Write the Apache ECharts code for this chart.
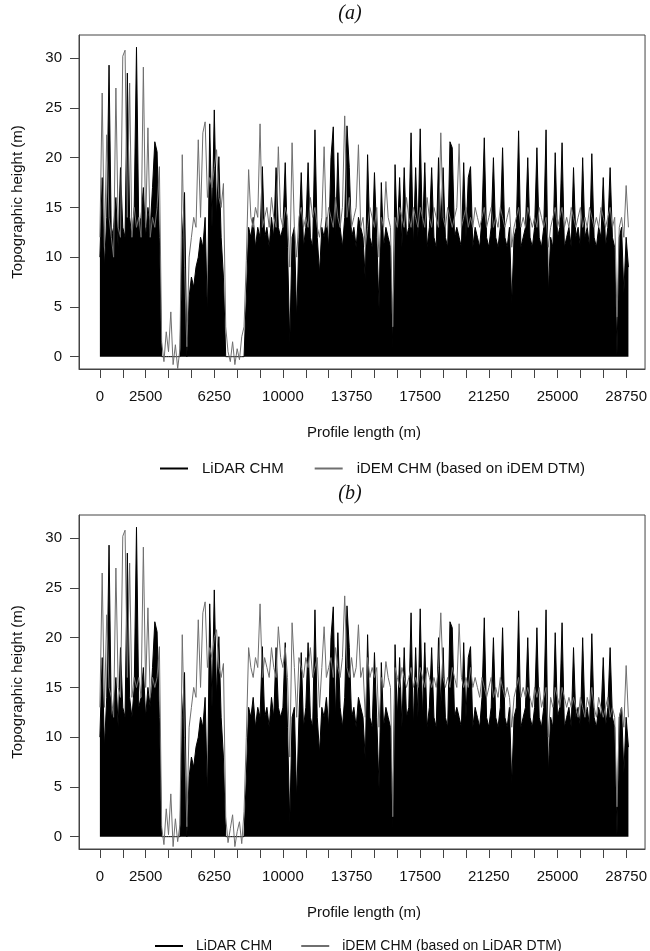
<!DOCTYPE html>
<html>
<head>
<meta charset="utf-8">
<script src="https://cdn.jsdelivr.net/npm/echarts@6/dist/echarts.min.js"></script>
<style>
  html, body { margin: 0; padding: 0; background: #fff; }
  #chart { width: 650px; height: 951px; }
</style>
</head>
<body>
<div id="chart"></div>
<script>
// profile samples every 125 m, from 0 m
const STEP = 125

// LiDAR CHM (same in both panels)
const lidarChm = [
  10, 18, 9, 14, 29.3, 12, 13, 16, 11, 19,
  13, 12, 28.5, 14, 12, 15, 31.1, 13, 14, 17,
  12, 15, 13, 17, 21.6, 20.6, 12, 0, 0, 0,
  0, 0, 0, 0, 0, 0, 12, 16.5, 0, 6,
  8, 7, 9, 10, 12, 11, 14, 4, 23.4, 13,
  24.8, 14, 20.1, 12, 8, 0, 0, 0, 0, 0,
  0, 0, 0, 0, 6, 13, 12, 14, 11, 13,
  12, 19.1, 12, 13, 11, 14, 12, 19, 13, 12,
  13, 19.5, 11, 1.4, 12, 13, 3.7, 12, 18.5, 11,
  13, 19.5, 12, 11, 22.8, 12, 8.4, 13, 12, 14,
  11, 20, 23.1, 12, 20.5, 13, 11, 14, 23.2, 19,
  12, 13, 11, 14, 13, 12, 7.7, 20.3, 12, 11,
  18.5, 12, 4.9, 17.5, 11, 13, 12, 11, 0.9, 19.3,
  12, 18, 11, 19, 12, 13, 22.5, 11, 19, 12,
  22.9, 12, 19.5, 11, 13, 19, 12, 11, 20, 13,
  19, 12, 11, 21.6, 21, 12, 13, 12, 11, 19.5,
  12, 18, 19.1, 11, 13, 12, 11, 14, 22, 12,
  11, 13, 20, 12, 11, 13, 21, 12, 11, 13,
  5.4, 12, 13, 22.7, 11, 12, 13, 20, 12, 11,
  13, 21, 12, 11, 13, 22.8, 6.4, 12, 11, 20.5,
  12, 13, 21.5, 11, 12, 13, 11, 19, 12, 13,
  11, 20, 12, 13, 11, 20.4, 12, 11, 13, 12,
  18, 11, 13, 19, 12, 11, 0.2, 12, 13, 6.4,
  12, 9
]

// iDEM CHM based on iDEM DTM (panel a)
const idemChmIdemDtm = [
  12, 26.5, 11, 22.3, 14, 12, 10, 27, 13, 12,
  30.2, 30.8, 14, 27.5, 12, 15, 13, 14, 12, 29.1,
  13, 23, 12, 14, 13, 15, 19.1, 1.5, -0.5, 2.5,
  0.5, 4.5, -0.8, 1.2, -1.2, 0.8, 20.3, 9, 1, 10,
  12, 14, 13, 21.8, 14, 22.5, 23.6, 16, 18, 17,
  19, 20.8, 16, 15, 17.4, 3, 0.5, -0.5, 1.5, -0.8,
  0.8, -0.3, 2, 3, 9.7, 18.8, 14, 13, 15, 14,
  23.4, 13, 14, 15, 13, 16, 14, 13, 21.1, 14,
  13, 15, 14, 9, 21.5, 13, 10, 14, 15, 13,
  14, 13, 16, 14, 15, 13, 12, 14, 21.1, 13,
  15, 14, 13, 16, 14, 13, 15, 24.2, 14, 16,
  13, 14, 15, 21.3, 13, 14, 11, 13, 15, 14,
  13, 15, 10, 14, 13, 17.6, 14, 13, 3, 14,
  13, 15, 14, 13, 16, 14, 13, 15, 14, 13,
  15, 14, 13, 16, 14, 13, 15, 14, 13, 22.5,
  14, 13, 15, 14, 13, 14, 15, 21.4, 13, 14,
  15, 13, 14, 13, 15, 14, 13, 14, 15, 13,
  14, 15, 13, 14, 13, 15, 14, 13, 14, 15,
  11, 13, 14, 15, 13, 14, 13, 15, 14, 13,
  14, 13, 15, 14, 13, 14, 11, 13, 14, 15,
  13, 14, 15, 13, 14, 13, 15, 14, 13, 14,
  15, 13, 14, 13, 15, 14, 13, 14, 13, 15,
  14, 13, 14, 15, 13, 14, 4, 13, 14, 12,
  17.2, 13
]

// iDEM CHM based on LiDAR DTM (panel b)
const idemChmLidarDtm = [
  13, 26.5, 13, 22.3, 15, 14, 12, 27, 15, 14,
  30.2, 30.8, 16, 27.5, 14, 16, 15, 16, 14, 29.1,
  15, 23, 14, 16, 15, 16, 19.1, 1, -0.8, 2.8,
  0.2, 4.3, -1, 1.8, -0.5, 1.2, 20.3, 10, 1, 11,
  13, 15, 14, 21.8, 15, 22.5, 23.6, 17, 19, 18,
  20, 20.8, 17, 16, 17.4, 2, -0.6, 0.8, 2.2, -1,
  0.5, 1.5, -0.7, 2.5, 10, 19, 17, 16, 18, 17,
  23.4, 16, 18, 17, 16, 19, 17, 16, 21.1, 18,
  17, 19, 16, 8, 21.5, 17, 12, 18, 17, 16,
  18, 17, 19, 16, 17, 18, 13, 17, 21.1, 16,
  17, 18, 16, 19, 17, 16, 18, 24.2, 17, 16,
  18, 16, 17, 21.3, 16, 17, 12, 18, 16, 17,
  16, 17, 11, 16, 15, 17.6, 16, 15, 2, 17,
  16, 15, 17, 16, 15, 16, 17, 15, 16, 15,
  17, 16, 15, 17, 16, 15, 16, 15, 17, 22.5,
  16, 15, 16, 15, 17, 16, 15, 21.4, 16, 15,
  16, 15, 17, 15, 16, 15, 14, 16, 15, 14,
  15, 16, 14, 15, 14, 16, 15, 14, 15, 14,
  11, 14, 15, 16, 14, 15, 14, 15, 14, 13,
  15, 14, 15, 13, 14, 15, 10, 14, 13, 15,
  14, 13, 15, 14, 13, 14, 13, 14, 13, 12,
  14, 13, 12, 14, 13, 15, 13, 12, 14, 13,
  12, 13, 14, 12, 13, 12, 3, 12, 13, 11,
  17.2, 12
]

const xTicks = [0, 1250, 2500, 3750, 5000, 6250, 7500, 8750, 10000, 11250, 12500, 13750,
  15000, 16250, 17500, 18750, 20000, 21250, 22500, 23750, 25000, 26250, 27500, 28750]
const xLabels = [0, 2500, 6250, 10000, 13750, 17500, 21250, 25000, 28750]
const yTicks = [0, 5, 10, 15, 20, 25, 30]

const FONT = 'Liberation Sans, Arial, sans-serif'
const AXIS_COLOR = '#444'
const GRAY = '#6f6f6f'

const toPairs = vals => vals.map((v, i) => [i * STEP, v])

const chart = echarts.init(document.getElementById('chart'), null, { renderer: 'canvas' })

const makeGrid = top => ({
  left: 79, top, width: 569, height: 334,
  show: true, borderColor: AXIS_COLOR, borderWidth: 1, backgroundColor: 'transparent'
})

const makeX = gridIndex => ({
  type: 'value', gridIndex, min: -1141, max: 29782,
  axisLine: { show: true, onZero: false, lineStyle: { color: AXIS_COLOR } },
  axisTick: { show: true, length: 9, customValues: xTicks, lineStyle: { color: AXIS_COLOR } },
  axisLabel: {
    customValues: xLabels, margin: 20, fontSize: 15, color: '#111', fontFamily: FONT,
    formatter: v => String(v)
  },
  splitLine: { show: false }
})

const makeY = gridIndex => ({
  type: 'value', gridIndex, min: -1.24, max: 32.33,
  axisLine: { show: true, onZero: false, lineStyle: { color: AXIS_COLOR } },
  axisTick: { show: true, length: 9, customValues: yTicks, lineStyle: { color: AXIS_COLOR } },
  axisLabel: {
    customValues: yTicks, margin: 17, fontSize: 15, color: '#111', fontFamily: FONT,
    formatter: v => String(v)
  },
  splitLine: { show: false }
})

const lidarSeries = idx => ({
  name: 'LiDAR CHM', type: 'line', xAxisIndex: idx, yAxisIndex: idx,
  data: toPairs(lidarChm), showSymbol: false, symbol: 'none',
  lineStyle: { color: '#000', width: 1 },
  itemStyle: { color: '#000' },
  areaStyle: { color: '#000', opacity: 1 },
  z: 2
})

const idemSeries = (idx, name, vals) => ({
  name, type: 'line', xAxisIndex: idx, yAxisIndex: idx,
  data: toPairs(vals), showSymbol: false, symbol: 'none',
  lineStyle: { color: GRAY, width: 1 },
  itemStyle: { color: GRAY },
  z: 3
})

const text = (str, x, y, font, rotation) => ({
  type: 'text', x, y, rotation: rotation || 0,
  style: { text: str, font, fill: '#111', align: 'center', verticalAlign: 'middle' }
})

const legend = (left, top, size, pad, gap, names) => ({
  left, top, orient: 'horizontal', icon: 'rect',
  itemWidth: 28, itemHeight: 2, itemGap: gap,
  textStyle: { fontSize: size, fontFamily: FONT, color: '#111', padding: [0, 0, 0, pad] },
  data: names
})

chart.setOption({
  animation: false,
  grid: [makeGrid(35), makeGrid(515)],
  xAxis: [makeX(0), makeX(1)],
  yAxis: [makeY(0), makeY(1)],
  legend: [
    legend(155, 456, 15, 9, 31, ['LiDAR CHM', 'iDEM CHM (based on iDEM DTM)']),
    legend(150, 934, 14, 8, 29, ['LiDAR CHM', 'iDEM CHM (based on LiDAR DTM)'])
  ],
  series: [
    lidarSeries(0),
    idemSeries(0, 'iDEM CHM (based on iDEM DTM)', idemChmIdemDtm),
    lidarSeries(1),
    idemSeries(1, 'iDEM CHM (based on LiDAR DTM)', idemChmLidarDtm)
  ],
  graphic: [
    text('(a)', 350, 14, 'italic 20px "Liberation Serif", serif'),
    text('(b)', 350, 494, 'italic 20px "Liberation Serif", serif'),
    text('Topographic height (m)', 18, 202, '15px ' + FONT, Math.PI / 2),
    text('Topographic height (m)', 18, 682, '15px ' + FONT, Math.PI / 2),
    text('Profile length (m)', 364, 433, '15px ' + FONT),
    text('Profile length (m)', 364, 913, '15px ' + FONT)
  ]
})
</script>
</body>
</html>
